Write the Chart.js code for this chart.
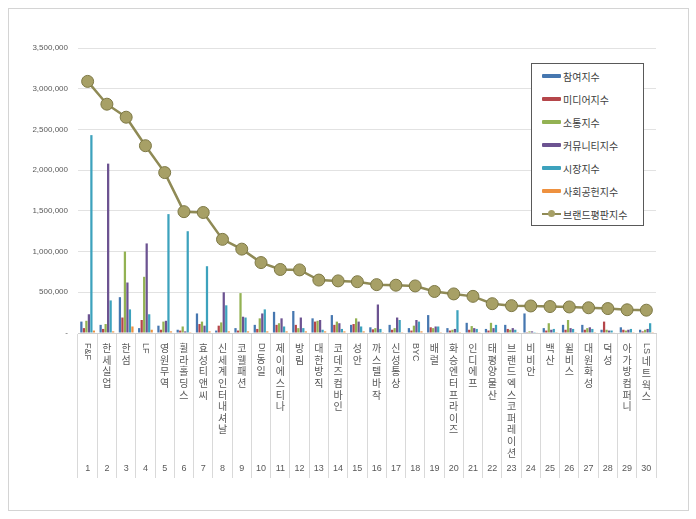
<!DOCTYPE html>
<html>
<head>
<meta charset="utf-8">
<script src="https://cdn.jsdelivr.net/npm/chart.js@4.4.1/dist/chart.umd.min.js"></script>
<style>
  html, body { margin: 0; padding: 0; background: #fff; }
  #wrap { position: relative; width: 696px; height: 519px; }
  #frame { position: absolute; left: 8px; top: 8px; width: 679px; height: 501px; border: 1px solid #d4d4d4; }
  #my-chart { position: absolute; left: 0; top: 0; }
  #legend { position: absolute; left: 531px; top: 63px; width: 111px; height: 161px; border: 1px solid #595959;
    background: #fff; font-family: 'Noto Sans CJK KR', sans-serif; font-size: 10px; color: #404040; }
  .item { position: absolute; left: 10px; height: 14px; display: flex; align-items: center; white-space: nowrap; }
  .sw { width: 19px; height: 4px; margin-right: 2px; border-radius: 1px; }
  .sw-line { position: relative; width: 19px; height: 2px; margin-right: 2px; }
  .sw-line i { position: absolute; left: 6px; top: -3px; width: 7px; height: 7px; border-radius: 50%; }
</style>
</head>
<body>
<div id="wrap">
  <div id="frame"></div>
  <canvas id="my-chart" width="696" height="519"></canvas>
  <div id="legend"></div>
</div>
<script>
const companies = ['F&F', '한세실업', '한섬', 'LF', '영원무역', '휠라홀딩스', '효성티앤씨', '신세계인터내셔날', '코웰패션', 'DI동일',
  '제이에스티나', '방림', '대한방직', '코데즈컴바인', '성안', '까스텔바작', '신성통상', 'BYC', '배럴', '화승엔터프라이즈',
  '인디에프', '태평양물산', '브랜드엑스코퍼레이션', '비비안', '백산', '윌비스', '대원화성', '덕성', '아가방컴퍼니', 'LS네트웍스'];
const ranks = companies.map((c, i) => String(i + 1));

const seriesNames = ['참여지수', '미디어지수', '소통지수', '커뮤니티지수', '시장지수', '사회공헌지수', '브랜드평판지수'];

const participation = [140000, 100000, 440000, 60000, 90000, 40000, 240000, 30000, 60000, 100000,
  260000, 270000, 180000, 220000, 100000, 70000, 100000, 60000, 220000, 60000,
  125000, 50000, 100000, 240000, 60000, 100000, 100000, 40000, 70000, 40000];
const media = [60000, 50000, 190000, 160000, 40000, 30000, 110000, 90000, 30000, 50000,
  100000, 100000, 140000, 100000, 110000, 45000, 40000, 30000, 70000, 30000,
  40000, 30000, 50000, 10000, 30000, 40000, 40000, 140000, 40000, 20000];
const communication = [150000, 110000, 1000000, 690000, 140000, 80000, 140000, 130000, 490000, 180000,
  120000, 60000, 150000, 140000, 180000, 60000, 60000, 90000, 60000, 40000,
  85000, 125000, 40000, 20000, 120000, 160000, 60000, 40000, 30000, 40000];
const community = [230000, 2080000, 620000, 1100000, 150000, 20000, 90000, 500000, 200000, 240000,
  180000, 190000, 160000, 120000, 140000, 350000, 190000, 160000, 80000, 50000,
  60000, 60000, 60000, 20000, 40000, 60000, 70000, 30000, 40000, 50000];
const market = [2430000, 400000, 290000, 230000, 1460000, 1250000, 820000, 340000, 190000, 290000,
  80000, 60000, 40000, 50000, 80000, 50000, 160000, 140000, 80000, 280000,
  50000, 100000, 40000, 10000, 50000, 50000, 50000, 30000, 50000, 120000];
const social = [30000, 20000, 80000, 40000, 20000, 10000, 20000, 20000, 20000, 20000,
  20000, 20000, 20000, 20000, 20000, 10000, 10000, 20000, 10000, 10000,
  10000, 10000, 10000, 5000, 10000, 10000, 10000, 5000, 10000, 10000];
const brandIndex = [3090000, 2810000, 2650000, 2300000, 1970000, 1490000, 1480000, 1150000, 1030000, 865000,
  780000, 775000, 650000, 640000, 630000, 594000, 587000, 578000, 510000, 480000,
  450000, 360000, 336000, 332000, 325000, 320000, 310000, 300000, 285000, 280000];

const barColors = ['#4677B0', '#B5464A', '#93B253', '#6C5391', '#3DA2BD', '#EE913F'];
const lineColor = '#8F8A55';
const markerColor = '#A7A066';

// vertical category names + rank numbers under the x axis
const categoryText = {
  id: 'categoryText',
  afterDraw(chart) {
    const { ctx, chartArea } = chart;
    const x = chart.scales.x;
    ctx.save();
    ctx.fillStyle = '#595959';
    companies.forEach((name, i) => {
      const cx = x.getPixelForValue(i);
      let y = chartArea.bottom + 10;
      const parts = name.match(/[A-Za-z&]+|./g);
      parts.forEach(p => {
        if (/^[A-Za-z&]+$/.test(p)) {
          ctx.font = "9px 'Liberation Sans', sans-serif";
          const w = ctx.measureText(p).width;
          ctx.save();
          ctx.translate(cx, y);
          ctx.rotate(Math.PI / 2);
          ctx.textAlign = 'left';
          ctx.textBaseline = 'middle';
          ctx.fillText(p, 0, 0);
          ctx.restore();
          y += w + 2;
        } else {
          ctx.font = "10px 'Noto Sans CJK KR', sans-serif";
          ctx.textAlign = 'center';
          ctx.textBaseline = 'middle';
          ctx.fillText(p, cx, y + 5.5);
          y += 11.6;
        }
      });
      ctx.font = "9px 'Liberation Sans', sans-serif";
      ctx.textAlign = 'center';
      ctx.textBaseline = 'middle';
      ctx.fillText(ranks[i], cx, chartArea.bottom + 136);
    });
    ctx.restore();
  }
};

const barData = [participation, media, communication, community, market, social];
const datasets = barData.map((d, i) => ({
  type: 'bar',
  label: seriesNames[i],
  data: d,
  backgroundColor: barColors[i],
  borderWidth: 0,
  categoryPercentage: 0.78,
  barPercentage: 0.9,
  order: 1
}));
datasets.push({
  type: 'line',
  label: seriesNames[6],
  data: brandIndex,
  borderColor: lineColor,
  borderWidth: 2.5,
  pointRadius: 6,
  pointBackgroundColor: markerColor,
  pointBorderColor: '#7D7845',
  pointBorderWidth: 1,
  tension: 0,
  order: 0
});

const ctx = document.getElementById('my-chart').getContext('2d');
const chart = new Chart(ctx, {
  data: { labels: companies, datasets },
  options: {
    responsive: false,
    animation: false,
    layout: { padding: { top: 48, right: 40, left: 0, bottom: 0 } },
    plugins: { legend: { display: false }, tooltip: { enabled: false } },
    scales: {
      x: {
        offset: true,
        grid: { offset: true, drawOnChartArea: false, drawTicks: true, tickLength: 145, color: '#d9d9d9' },
        border: { color: '#d0d0d0' },
        ticks: { display: false },
        afterFit(scale) { scale.height = 186; }
      },
      y: {
        min: 0,
        max: 3500000,
        grid: { color: '#e2e2e2', drawTicks: false },
        border: { display: false },
        ticks: {
          stepSize: 500000,
          padding: 10,
          color: '#595959',
          font: { family: "'Liberation Sans', sans-serif", size: 8 },
          callback: v => v === 0 ? '-' : v.toLocaleString('en-US')
        },
        afterFit(scale) { scale.width = 78; }
      }
    }
  },
  plugins: [categoryText]
});

// legend box drawn in html
const legend = document.getElementById('legend');
seriesNames.forEach((name, i) => {
  const row = document.createElement('div');
  row.className = 'item';
  row.style.top = (5 + i * 23) + 'px';
  if (i < 6) {
    row.innerHTML = '<span class="sw" style="background:' + barColors[i] + '"></span>' + name;
  } else {
    row.innerHTML = '<span class="sw-line" style="background:' + lineColor + '"><i style="background:' + markerColor + '"></i></span>' + name;
  }
  legend.appendChild(row);
});
</script>
</body>
</html>
